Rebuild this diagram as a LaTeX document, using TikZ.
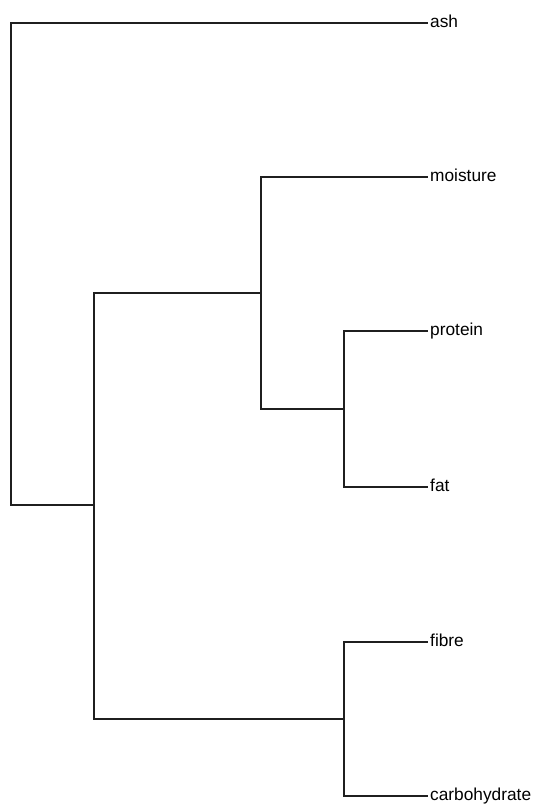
\documentclass[tikz,border=0pt]{standalone}
\usepackage{fontspec}
\setmainfont{Liberation Sans}
\begin{document}
\begin{tikzpicture}[x=1pt,y=-1pt,
  branch/.style={line width=2pt, draw=black!88, line cap=rect},
  leaf/.style={anchor=base west, inner sep=0pt, font=\fontsize{17.3}{20}\selectfont},
  tip/.style={shift={(-3,-4.3)}}]
\useasboundingbox (0,0) rectangle (536,804);
% leaf labels (baseline sits 4.3pt below the branch line)
\node[leaf] (ash)  at (430,27.3)  {ash};
\node[leaf] (moi)  at (430,181.3) {moisture};
\node[leaf] (pro)  at (430,335.3) {protein};
\node[leaf] (fat)  at (430,491.3) {fat};
\node[leaf] (fib)  at (430,646.3) {fibre};
\node[leaf] (car)  at (430,800.3) {carbohydrate};
% branch ends next to each label
\coordinate (ashE) at ([tip]ash.base west);
\coordinate (moiE) at ([tip]moi.base west);
\coordinate (proE) at ([tip]pro.base west);
\coordinate (fatE) at ([tip]fat.base west);
\coordinate (fibE) at ([tip]fib.base west);
\coordinate (carE) at ([tip]car.base west);
% merge points
\coordinate (root) at (11,505);
\coordinate (a) at (94,505);
\coordinate (b) at (261,293);
\coordinate (c) at (344,409);
\coordinate (d) at (344,719);
% branches
\draw[branch] (ashE) -| (root) -- (a);
\draw[branch] (b -| a) -- (b);
\draw[branch] (a |- d) -- (d);
\draw[branch] (a |- b) -- (a |- d);
\draw[branch] (moiE) -| (b |- c) -- (c);
\draw[branch] (proE) -| (c |- fatE) -- (fatE);
\draw[branch] (fibE) -| (d |- carE) -- (carE);
\end{tikzpicture}
\end{document}
